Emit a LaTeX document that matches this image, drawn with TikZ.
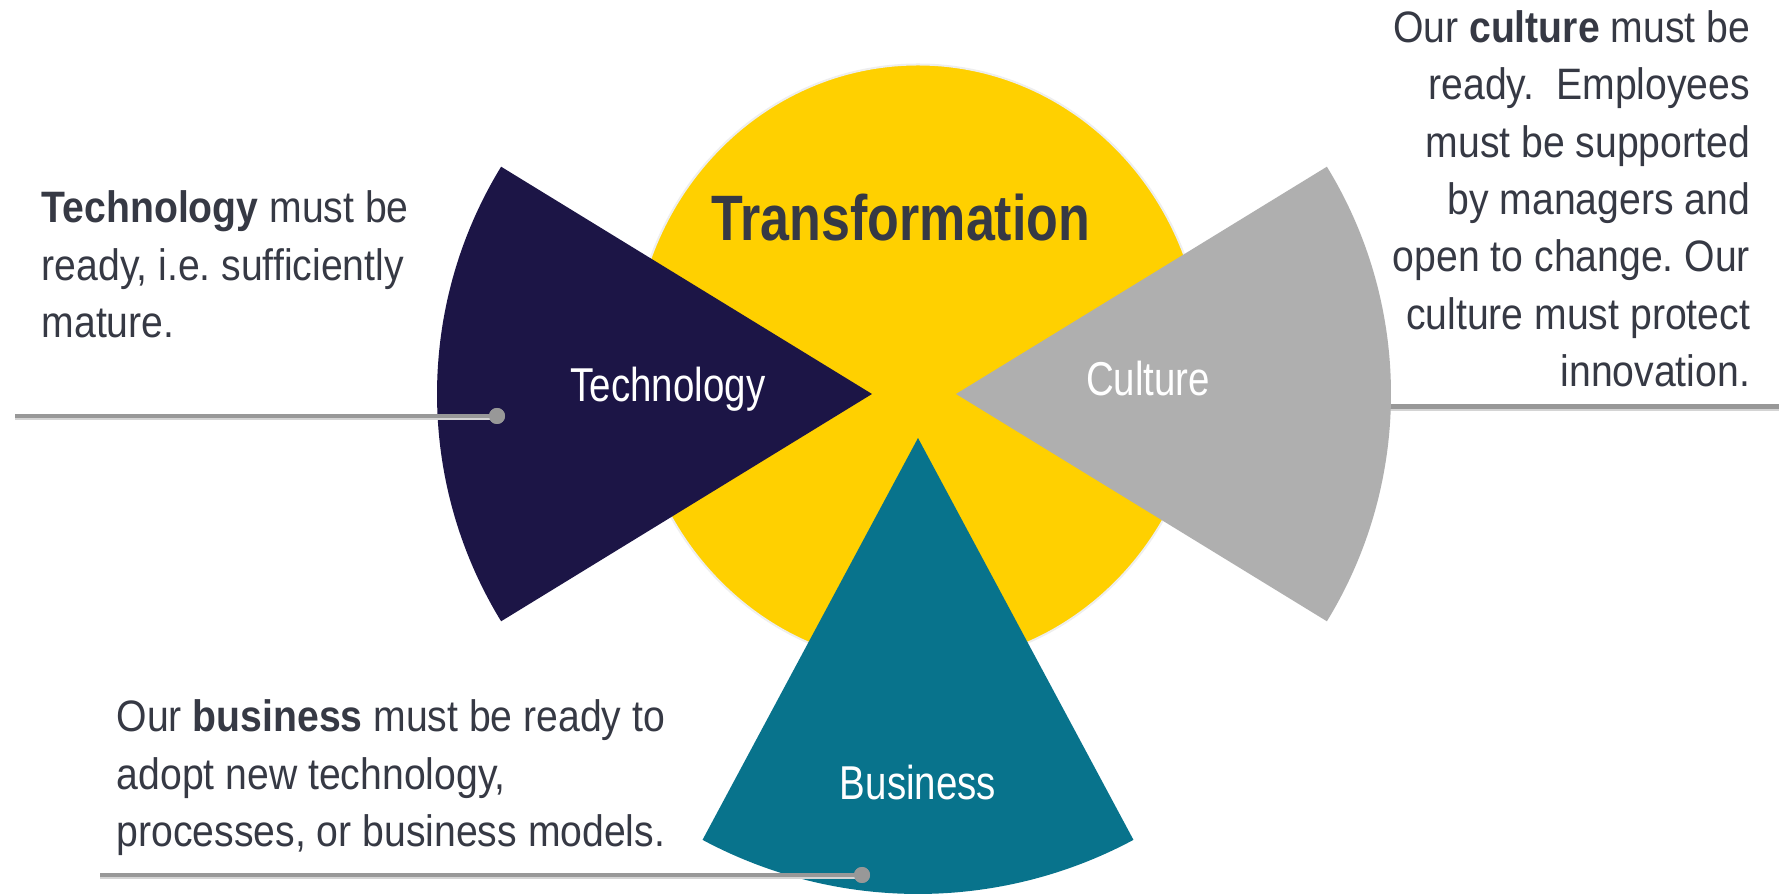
\documentclass[tikz,border=0pt]{standalone}
\usepackage{fontspec}
\newfontfamily\bodyfont[FakeStretch=0.89]{Liberation Sans}
\newfontfamily\narrowfont[FakeStretch=0.81]{Liberation Sans}
\definecolor{tyellow}{RGB}{255,208,0}
\definecolor{tnavy}{RGB}{28,21,70}
\definecolor{tteal}{RGB}{8,115,140}
\definecolor{tgray}{RGB}{175,175,175}
\definecolor{ttext}{RGB}{54,57,68}
\definecolor{tline}{RGB}{152,152,152}
\definecolor{tshadow}{RGB}{212,212,212}
\definecolor{tedge}{RGB}{238,238,238}
\frenchspacing
\begin{document}
\begin{tikzpicture}[x=1pt,y=1pt,
  bodytext/.style={font=\bodyfont\fontsize{44}{57.3}\selectfont, text=ttext, inner sep=0pt, outer sep=0pt},
  seclabel/.style={font=\narrowfont\fontsize{47.5}{57}\selectfont, text=white, inner sep=0pt, anchor=base},
  titletext/.style={font=\narrowfont\bfseries\fontsize{64.2}{70}\selectfont, text=ttext, inner sep=0pt, anchor=base},
  conn/.style={draw=tline, line width=4.5pt},
  connshadow/.style={draw=tshadow, line width=4pt},
  dotnode/.style={circle, fill=tline, minimum size=16pt, inner sep=0pt, outer sep=0pt}
]
\useasboundingbox (0,0) rectangle (1779,896);
\fill[white] (0,0) rectangle (1779,896);

% core ellipse
\filldraw[fill=tyellow, draw=tedge, line width=2pt] (918,531) ellipse [x radius=286, y radius=300.5];

% culture connector (starts under the culture sector)
\coordinate (cnear) at (1370,489.3);
\coordinate (cfar) at (1779,489.3);
\draw[connshadow] ([yshift=-2.5pt]cnear) -- ([yshift=-2.5pt]cfar);
\draw[conn] (cnear) -- (cfar);

% sectors
\fill[tnavy] (872,502) -- ++(148.5:435) arc[start angle=148.5, end angle=211.5, radius=435] -- cycle;
\fill[tgray] (956,502) -- ++(-31.5:435) arc[start angle=-31.5, end angle=31.5, radius=435] -- cycle;
\fill[tteal] (918,458) -- ++(241.8:456) arc[start angle=241.8, end angle=298.2, radius=456] -- cycle;

% labels
\node[titletext] (transf) at (901,655) {Transformation};
\node[seclabel] (techlabel) at (668,494) {Technology};
\node[seclabel] (culturelabel) at (1148,500) {Culture};
\node[seclabel] (businesslabel) at (918,96) {Business};

% technology connector
\coordinate (tfar) at (15,480);
\node[dotnode] (tdot) at (497,480) {};
\draw[connshadow] ([yshift=-2.5pt]tfar) -- ([yshift=-2.5pt]tdot.center);
\draw[conn] (tfar) -- (tdot.center);
\node[dotnode] at (tdot.center) {};

% business connector
\coordinate (bfar) at (100,21);
\node[dotnode] (bdot) at (862,21) {};
\draw[connshadow] ([yshift=-2.5pt]bfar) -- ([yshift=-2.5pt]bdot.center);
\draw[conn] (bfar) -- (bdot.center);
\node[dotnode] at (bdot.center) {};

% descriptions
\node[bodytext, anchor=north west, align=left] (techdesc) at (41.7,713)
  {\rule{0pt}{40pt}\textbf{Technology} must be\\ready, i.e. sufficiently\\mature.};
\node[bodytext, anchor=north east, align=right] (culturedesc) at (1750,893.3)
  {\rule{0pt}{40pt}Our \textbf{culture} must be\\ready.~ Employees\\must be supported\\by managers and\\open to change. Our\\culture must protect\\innovation.};
\node[bodytext, anchor=north west, align=left] (businessdesc) at (116.7,204)
  {\rule{0pt}{40pt}Our \textbf{business} must be ready to\\adopt new technology,\\processes, or business models.};
\end{tikzpicture}
\end{document}
